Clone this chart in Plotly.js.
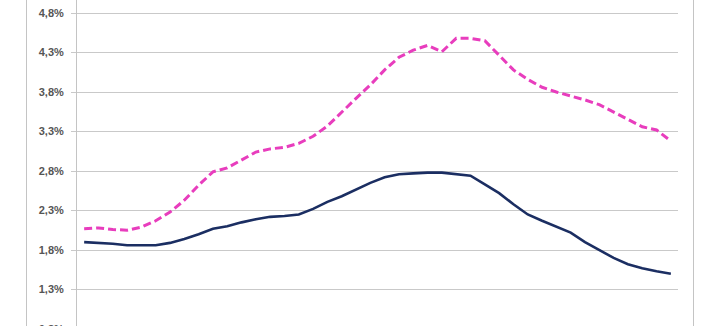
<!DOCTYPE html>
<html>
<head>
<meta charset="utf-8">
<script src="https://cdn.plot.ly/plotly-3.0.1.min.js"></script>
<style>
  html, body { margin: 0; padding: 0; width: 712px; height: 326px; overflow: hidden; background: #fff; }
  #frame { position: absolute; left: 26px; top: 0; width: 666px; height: 326px;
           border-left: 1px solid #c4c4c4; border-right: 1px solid #c4c4c4; pointer-events: none; }
  #chart { position: absolute; left: 0; top: 0; width: 712px; height: 380px; }
</style>
</head>
<body>
<div id="chart"></div>
<div id="frame"></div>
<script>
// Categories (unlabelled periods)
const periods = Array.from({length: 42}, (_, i) => i + 1);

// Series values in percent
const seriesNavy = [
  1.90, 1.89, 1.88, 1.86, 1.86, 1.86, 1.89, 1.94, 2.00, 2.07,
  2.10, 2.15, 2.19, 2.22, 2.23, 2.25, 2.32, 2.41, 2.48, 2.57,
  2.65, 2.72, 2.76, 2.77, 2.78, 2.78, 2.76, 2.74, 2.63, 2.52,
  2.38, 2.25, 2.17, 2.09, 2.02, 1.90, 1.80, 1.70, 1.62, 1.57,
  1.53, 1.50
];
const seriesPink = [
  2.07, 2.08, 2.06, 2.05, 2.09, 2.17, 2.28, 2.43, 2.62, 2.79,
  2.84, 2.94, 3.04, 3.08, 3.10, 3.15, 3.24, 3.37, 3.55, 3.72,
  3.89, 4.08, 4.24, 4.33, 4.39, 4.31, 4.48, 4.48, 4.45, 4.27,
  4.08, 3.96, 3.86, 3.80, 3.75, 3.70, 3.64, 3.55, 3.46, 3.36,
  3.32, 3.18
];

// Y tick values and labels
const yTickVals = [0.8, 1.3, 1.8, 2.3, 2.8, 3.3, 3.8, 4.3, 4.8];
const yTickText = ["0,8%", "1,3%", "1,8%", "2,3%", "2,8%", "3,3%", "3,8%", "4,3%", "4,8%"];

const traces = [
  {
    x: periods, y: seriesPink, type: 'scatter', mode: 'lines',
    line: {color: '#e83dbd', width: 3, dash: '8px,4px'},
    hoverinfo: 'skip'
  },
  {
    x: periods, y: seriesNavy, type: 'scatter', mode: 'lines',
    line: {color: '#1b2e62', width: 2.6},
    hoverinfo: 'skip'
  }
];

const layout = {
  width: 712, height: 380,
  margin: {l: 77, r: 34, t: 0, b: 51},
  paper_bgcolor: '#ffffff',
  plot_bgcolor: '#ffffff',
  showlegend: false,
  font: {family: 'Liberation Sans, Arial, sans-serif', size: 11, color: '#555555'},
  xaxis: {
    range: [0.5, 42.5],
    showgrid: false, zeroline: false, showline: false,
    showticklabels: false, ticks: ''
  },
  yaxis: {
    range: [0.8, 4.965],
    tickmode: 'array', tickvals: yTickVals, ticktext: yTickText,
    showgrid: true, gridcolor: '#c9c9c9', gridwidth: 1,
    zeroline: false,
    showline: true, linecolor: '#c4c4c4', linewidth: 1,
    ticks: 'outside', ticklen: 5, tickcolor: '#c9c9c9', tickwidth: 1,
    ticklabelstandoff: 5,
    tickfont: {family: 'Liberation Sans, Arial, sans-serif', size: 11, color: '#555555', weight: 'bold'}
  }
};

Plotly.newPlot('chart', traces, layout, {staticPlot: true, displayModeBar: false});
</script>
</body>
</html>
